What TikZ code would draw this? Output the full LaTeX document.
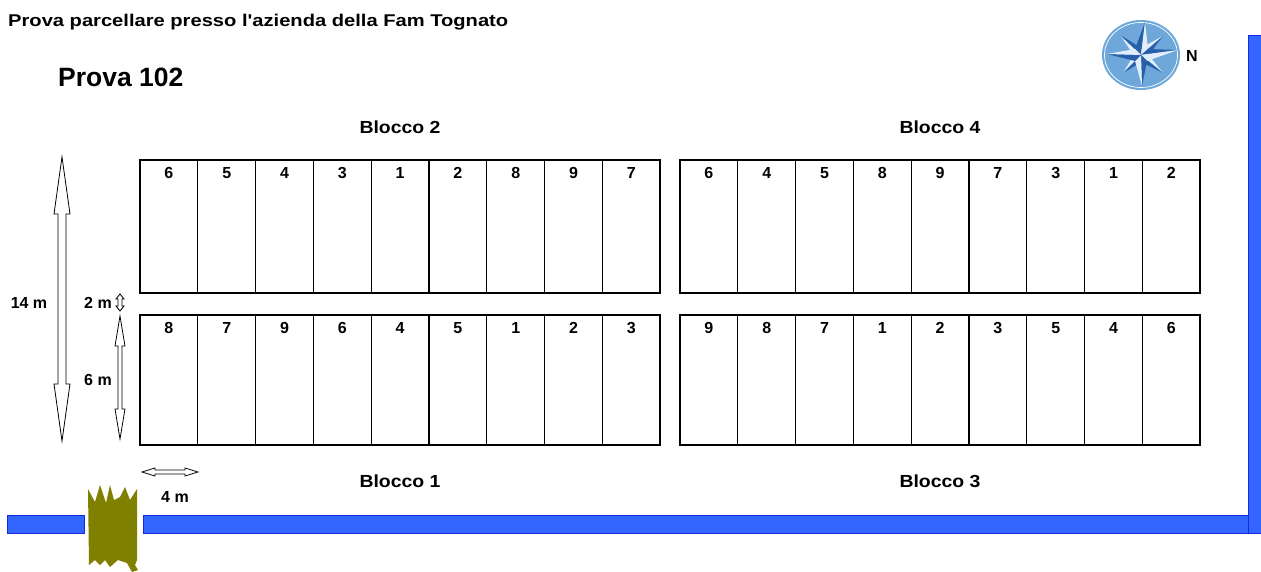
\documentclass[tikz,border=0pt]{standalone}
\usepackage{fontspec}
\usepackage{graphicx}
\setmainfont{Liberation Sans}
% same family without TeX ligatures, so the apostrophe stays straight
\newfontfamily\plainsans{Liberation Sans}
\definecolor{canal}{RGB}{51,102,255}
\definecolor{canaledge}{RGB}{20,40,230}
\definecolor{hedge}{RGB}{128,128,0}
\definecolor{compfill}{RGB}{110,168,218}
\definecolor{compdark}{RGB}{40,95,170}
\definecolor{complight}{RGB}{225,238,250}
\tikzset{
  frame/.style={draw=black,line width=2.8pt},
  inner/.style={draw=black,line width=1.3pt},
  num/.style={font=\bfseries\fontsize{16}{16}\selectfont},
  lbl/.style={font=\bfseries\fontsize{17.5}{17.5}\selectfont},
  dim/.style={font=\bfseries\fontsize{16}{16}\selectfont},
  openarrow/.style={draw=black,fill=white,line width=0.8pt,line join=miter},
  water/.style={fill=canal,draw=canaledge,line width=0.8pt},
}
\newcommand\wide[2]{\resizebox{#1}{\height}{#2}}
% a row of nine plots: left x, top y, height, name, plot numbers
\newcommand\plotrow[5]{%
  \foreach \n [count=\i from 0] in {#5} {
    \node[num] (#4-\i) at ({#1+(\i+0.5)*57.8},{#2+13}) {\n};
    \ifnum\i>0 \draw[inner] ({#1+\i*57.8},#2) -- ({#1+\i*57.8},{#2+#3}); \fi
  }
  \draw[frame] (#1,#2) rectangle ++(520,#3);
}
% vertical open double arrow: x, top, bottom, shaft half width, head half width, head length
\newcommand\vdouble[6]{%
  \draw[openarrow] (#1,#2) -- ({#1+#5},{#2+#6}) -- ({#1+#4},{#2+#6}) -- ({#1+#4},{#3-#6})
    -- ({#1+#5},{#3-#6}) -- (#1,#3) -- ({#1-#5},{#3-#6}) -- ({#1-#4},{#3-#6})
    -- ({#1-#4},{#2+#6}) -- ({#1-#5},{#2+#6}) -- cycle;
}
% horizontal open double arrow: y, left, right, shaft half width, head half width, head length
\newcommand\hdouble[6]{%
  \draw[openarrow] (#2,#1) -- ({#2+#6},{#1-#5}) -- ({#2+#6},{#1-#4}) -- ({#3-#6},{#1-#4})
    -- ({#3-#6},{#1-#5}) -- (#3,#1) -- ({#3-#6},{#1+#5}) -- ({#3-#6},{#1+#4})
    -- ({#2+#6},{#1+#4}) -- ({#2+#6},{#1+#5}) -- cycle;
}
\begin{document}
\begin{tikzpicture}[x=1pt,y=-1pt]
\useasboundingbox[fill=white] (0,0) rectangle (1261,572);

% headings
\node[anchor=west,inner sep=0pt,font=\plainsans\bfseries\fontsize{17}{17}\selectfont] (title) at (8,22)
  {\wide{500pt}{Prova parcellare presso l'azienda della Fam Tognato}};
\node[anchor=west,inner sep=0pt,font=\bfseries\fontsize{26.5}{26.5}\selectfont] (trial) at (58,77) {Prova 102};

% compass rose
\begin{scope}[shift={(1141,55)}]
  \fill[compfill] (0,0) ellipse [x radius=39, y radius=35];
  \draw[white,line width=0.7pt] (0,0) ellipse [x radius=36.5, y radius=32.5];
  % diagonal points
  \foreach \tx/\ty/\ax/\ay/\bx/\by in {-21/-20/-6/2/2/-6, 22/-19/-2/-6/6/2, -18/18/-6/-2/2/6, 22/18/6/-2/-2/6} {
    \fill[complight] (0,0) -- (\tx,\ty) -- (\ax,\ay) -- cycle;
    \fill[compdark] (0,0) -- (\tx,\ty) -- (\bx,\by) -- cycle;
  }
  % main points
  \foreach \tx/\ty/\ax/\ay/\bx/\by in {4/-33/-6/-6/7/-6, 37/-5/7/-6/6/6, 1/31/6/6/-6/6, -34/-1/-6/6/-6/-6} {
    \fill[compdark] (0,0) -- (\tx,\ty) -- (\ax,\ay) -- cycle;
    \fill[complight] (0,0) -- (\tx,\ty) -- (\bx,\by) -- cycle;
  }
\end{scope}
\node[font=\bfseries\fontsize{16}{16}\selectfont] (north) at (1192,56) {N};

% block labels
\node[lbl] (b2) at (400,127) {\wide{81pt}{Blocco 2}};
\node[lbl] (b4) at (940,127) {\wide{81pt}{Blocco 4}};
\node[lbl] (b1) at (400,481) {\wide{81pt}{Blocco 1}};
\node[lbl] (b3) at (940,481) {\wide{81pt}{Blocco 3}};

% plots
\plotrow{140}{160}{133}{r2}{6,5,4,3,1,2,8,9,7}
\plotrow{680}{160}{133}{r4}{6,4,5,8,9,7,3,1,2}
\plotrow{140}{315}{130}{r1}{8,7,9,6,4,5,1,2,3}
\plotrow{680}{315}{130}{r3}{9,8,7,1,2,3,5,4,6}

% dimension arrows
\vdouble{62}{157}{441}{4}{8}{57}
\vdouble{120}{294}{311}{2}{4}{5}
\vdouble{120}{316}{439}{2}{5}{30}
\hdouble{472}{142}{198}{2}{4}{13}
\node[dim] (d14) at (29,303) {14 m};
\node[dim] (d2) at (98,303) {2 m};
\node[dim] (d6) at (98,380) {6 m};
\node[dim] (d4) at (175,497) {4 m};

% ditches
\fill[water] (7,515) rectangle (84,533);
\fill[water] (143,515) rectangle (1261,533);
\fill[water] (1248,35) rectangle (1261,533);

% hedge crossing the ditch
\fill[hedge] (88,489) -- (95,502) -- (100,485) -- (106,503) -- (110,485) -- (114,500)
  -- (120,497) -- (125,487) -- (130,500) -- (137,489) -- (137,560) -- (135,565)
  -- (138,570) -- (132,572) -- (127,563) -- (118,560) -- (110,567) -- (105,560)
  -- (100,565) -- (95,560) -- (89,565) -- cycle;
\end{tikzpicture}
\end{document}
